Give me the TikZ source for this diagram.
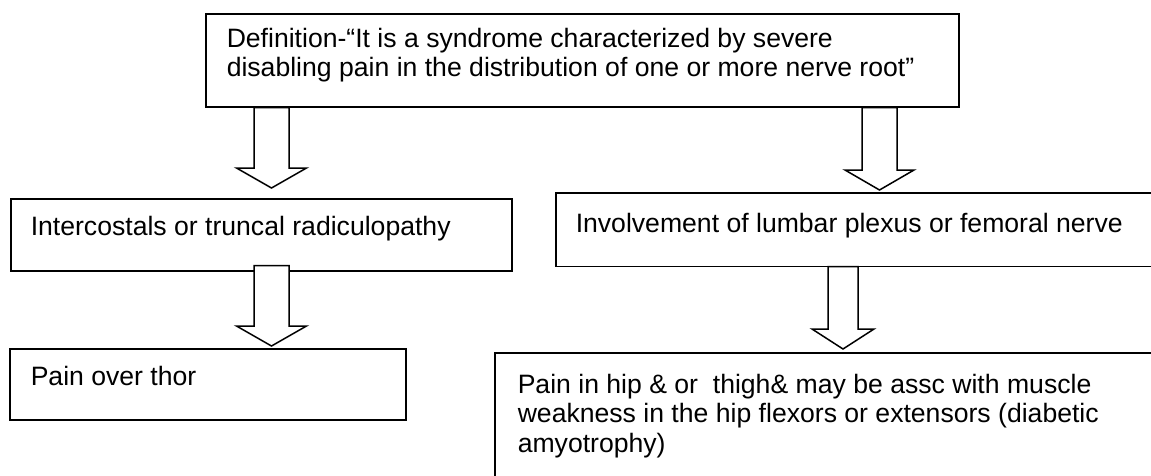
\documentclass[tikz,border=0pt]{standalone}
\usepackage{fontspec}
\setmainfont{Liberation Sans}
\usetikzlibrary{calc}

\tikzset{
  box/.style={draw, line width=1.5pt, anchor=north west,
    font=\fontsize{26.6pt}{29.5pt}\selectfont},
  openbox/.style={box, draw=none},
  boxedge/.style={line width=1.5pt},
  blockarr/.style={draw, line width=1.5pt, fill=white, line join=miter},
}
% top aligned text of a box: width, height, text
\newcommand{\boxtext}[3]{\parbox[t][#2][t]{#1}{\raggedright #3}}
% hollow arrow: top point, tip, half shaft, half head
\newcommand{\blockarrow}[4]{%
  \path[blockarr] let \p1=(#1), \p2=(#2) in
    (\x1-#3,\y1) -- (\x1-#3,\y2+20pt) -- (\x1-#4,\y2+20pt) -- (\x1,\y2)
    -- (\x1+#4,\y2+20pt) -- (\x1+#3,\y2+20pt) -- (\x1+#3,\y1) -- cycle;}

\begin{document}
\begin{tikzpicture}[x=1pt,y=-1pt]
\useasboundingbox (0,0) rectangle (1151,475);
\fill[white] (0,0) rectangle (1151,475);
\clip (0,0) rectangle (1151,475);

\node[box, inner xsep=21pt, inner ysep=14pt] (def) at (205,13)
  {\boxtext{711pt}{65pt}{Definition-“It is a syndrome characterized by severe\\disabling pain in the distribution of one or more nerve root”}};
\node[box, inner xsep=20pt, inner ysep=17pt] (inter) at (10,198)
  {\boxtext{461pt}{38pt}{Intercostals or truncal radiculopathy}};
\node[box, inner xsep=21pt, inner ysep=17pt] (thor) at (9,348)
  {\boxtext{354pt}{37pt}{Pain over thor}};
% these two run past the right edge of the page
\node[openbox, inner xsep=19pt, inner ysep=19pt] (invol) at (556,193)
  {\boxtext{560pt}{34pt}{Involvement of lumbar plexus or femoral nerve}};
\node[openbox, inner xsep=22pt, inner ysep=20pt] (hip) at (495,353)
  {\boxtext{640pt}{120pt}{Pain in hip \& or \ thigh\& may be assc with muscle\\weakness in the hip flexors or extensors (diabetic\\amyotrophy)}};
\draw[boxedge] (invol.north east) -- (invol.north west) -- (invol.south west) -- (invol.south east);
\draw[boxedge] (hip.north east) -- (hip.north west) -- (hip.south west);

\coordinate (a1s) at ($(def.south west)+(66.5,0)$);
\coordinate (a1t) at ($(a1s |- inter.north)+(0,-10)$);
\coordinate (a2s) at ($(inter.south west)+(261.5,-6)$);
\coordinate (a2t) at ($(a2s |- thor.north)+(0,-2)$);
\coordinate (a3s) at ($(def.south west)+(674.5,0)$);
\coordinate (a3t) at ($(a3s |- invol.north)+(0,-3)$);
\coordinate (a4s) at ($(invol.south west)+(287,0)$);
\coordinate (a4t) at ($(a4s |- hip.north)+(0,-4)$);

\blockarrow{a1s}{a1t}{17.5pt}{35pt}
\blockarrow{a2s}{a2t}{17.5pt}{35pt}
\blockarrow{a3s}{a3t}{17.5pt}{34.5pt}
\blockarrow{a4s}{a4t}{15pt}{31pt}
\end{tikzpicture}
\end{document}
